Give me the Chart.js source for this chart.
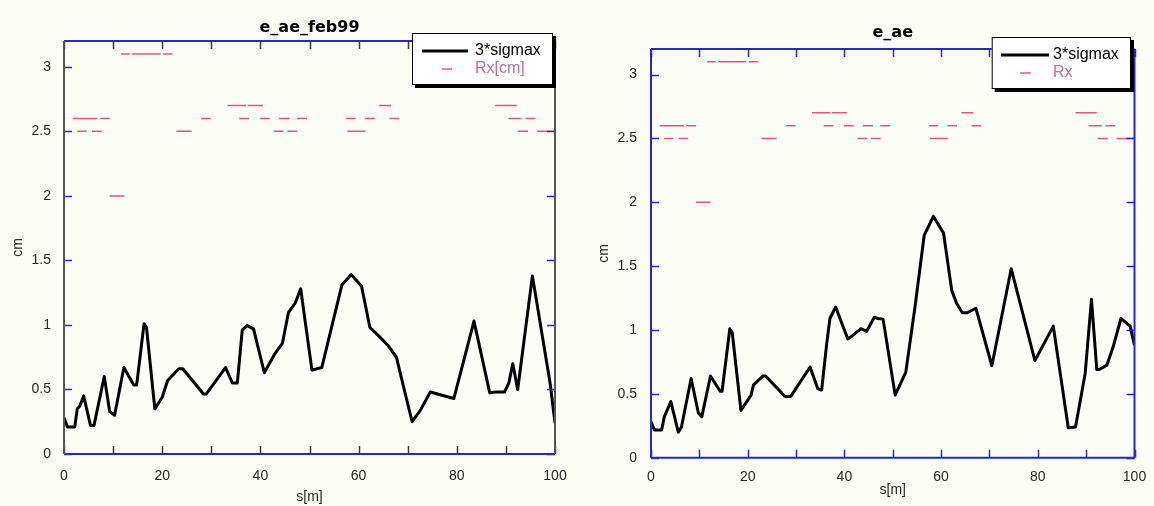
<!DOCTYPE html>
<html lang="en">
<head>
<meta charset="UTF-8" />
<script src="https://cdn.jsdelivr.net/npm/chart.js"></script>
<title>e_ae</title>
<style>
  body { margin: 0; background: #fdfdf8; }
  .wrap { display: flex; width: 1154px; height: 506px; }
  canvas { display: block; }
</style>
</head>
<body>
<div class="wrap">
  <canvas id="leftChart" width="577" height="506"></canvas>
  <canvas id="rightChart" width="577" height="506"></canvas>
</div>
<script>
// 3*sigmax [cm] along s [m], lattice e_ae_feb99
const sFeb99 = [0, 0.7, 2.2, 2.7, 3.2, 4.0, 5.4, 6.1, 8.2, 9.3, 10.3, 12.2, 14.2, 14.8, 16.3, 16.8, 18.5, 20.0, 21.1, 23.4,
                24.2, 28.4, 29.0, 32.9, 34.3, 35.3, 36.3, 37.3, 38.6, 40.8, 43.0, 44.5, 45.7, 47.1, 48.2, 50.5, 52.5, 56.6, 58.5, 60.6,
                62.3, 64.1, 65.9, 67.7, 68.9, 70.9, 72.6, 74.6, 79.4, 83.5, 86.7, 87.9, 89.7, 90.6, 91.4, 92.4, 93.7, 95.4, 99.0, 100];
const sigFeb99 = [0.28, 0.21, 0.21, 0.35, 0.37, 0.45, 0.22, 0.22, 0.60, 0.33, 0.30, 0.67, 0.535, 0.535, 1.01, 0.98, 0.35, 0.44, 0.57, 0.66,
                  0.66, 0.465, 0.465, 0.67, 0.55, 0.55, 0.96, 0.995, 0.97, 0.63, 0.78, 0.86, 1.095, 1.17, 1.28, 0.65, 0.67, 1.31, 1.39, 1.30,
                  0.98, 0.915, 0.845, 0.75, 0.56, 0.25, 0.34, 0.48, 0.43, 1.03, 0.475, 0.48, 0.48, 0.55, 0.70, 0.50, 0.88, 1.38, 0.55, 0.24];

// 3*sigmax [cm] along s [m], lattice e_ae
const sAe = [0, 0.7, 2.2, 2.75, 4.1, 5.65, 6.3, 8.3, 9.8, 10.5, 12.3, 14.3, 14.7, 16.3, 16.8, 18.6, 20.7, 21.2, 23.2, 23.7,
             27.7, 28.9, 32.9, 34.5, 35.3, 36.3, 37.0, 38.2, 40.7, 41.5, 43.4, 44.6, 46.2, 46.9, 48.0, 50.5, 52.7, 54.6, 56.5, 58.4,
             60.5, 62.2, 63.2, 64.4, 65.4, 67.2, 70.5, 74.5, 79.4, 83.2, 86.3, 87.8, 89.8, 91.1, 92.2, 92.7, 94.3, 95.6, 97.2, 99.1, 100];
const sigAe = [0.28, 0.217, 0.217, 0.32, 0.44, 0.20, 0.24, 0.62, 0.35, 0.32, 0.64, 0.52, 0.52, 1.01, 0.98, 0.37, 0.49, 0.57, 0.64, 0.64,
               0.48, 0.48, 0.71, 0.54, 0.53, 0.88, 1.09, 1.18, 0.93, 0.95, 1.01, 0.99, 1.10, 1.09, 1.085, 0.49, 0.67, 1.18, 1.74, 1.89,
               1.76, 1.31, 1.21, 1.135, 1.135, 1.17, 0.72, 1.48, 0.76, 1.03, 0.235, 0.24, 0.66, 1.24, 0.69, 0.69, 0.725, 0.87, 1.09, 1.03, 0.88];

// aperture Rx [cm]: element start, end and value (same in both plots)
const rxStart = [11.6, 13.9, 20.2, 9.3, 1.8, 7.3, 27.9, 35.7, 39.9, 43.8, 47.4, 57.5, 61.3, 66.3, 90.5, 94.0,
                 2.7, 5.7, 22.9, 42.7, 45.5, 57.7, 92.4, 96.3, 33.3, 37.4, 64.2, 87.8];
const rxEnd   = [13.4, 19.7, 22.1, 12.3, 6.8, 9.3, 29.9, 37.7, 41.9, 45.9, 49.5, 59.4, 63.3, 68.3, 93.2, 96.0,
                 4.6, 7.7, 26.0, 44.7, 47.5, 61.4, 94.5, 100, 37.1, 40.5, 66.6, 92.2];
const rxVal   = [3.1, 3.1, 3.1, 2.0, 2.6, 2.6, 2.6, 2.6, 2.6, 2.6, 2.6, 2.6, 2.6, 2.6, 2.6, 2.6,
                 2.5, 2.5, 2.5, 2.5, 2.5, 2.5, 2.5, 2.5, 2.7, 2.7, 2.7, 2.7];

const xTickLabels = [0, 20, 40, 60, 80, 100];
const xTickMarks = [0, 10, 20, 30, 40, 50, 60, 70, 80, 90, 100];
const yTickLabels = [0, 0.5, 1, 1.5, 2, 2.5, 3];

const FONT = '"Liberation Sans", Arial, sans-serif';
const BLUE = '#2626d6';
const RX_COLOR = '#e0567f';

function line(ctx, x1, y1, x2, y2) {
  ctx.beginPath();
  ctx.moveTo(x1, y1);
  ctx.lineTo(x2, y2);
  ctx.stroke();
}

// MATLAB style box: inward ticks on all four sides
const framePlugin = {
  id: 'frame',
  afterDatasetsDraw(chart, args, o) {
    const { ctx, chartArea: a, scales: { x, y } } = chart;
    ctx.save();
    ctx.lineWidth = 1.5;
    ctx.strokeStyle = o.xTickColor;
    xTickMarks.forEach(v => {
      const px = Math.round(x.getPixelForValue(v)) + 0.5;
      line(ctx, px, a.bottom, px, a.bottom - o.tickLen);
      line(ctx, px, a.top, px, a.top + o.tickLen);
    });
    ctx.strokeStyle = o.yTickColor;
    yTickLabels.forEach(v => {
      const py = Math.round(y.getPixelForValue(v)) + 0.5;
      line(ctx, a.left, py, a.left + o.tickLen, py);
      line(ctx, a.right, py, a.right - o.tickLen, py);
    });
    ctx.lineWidth = 2;
    ctx.strokeStyle = o.xBorder;
    line(ctx, a.left, a.top, a.right, a.top);
    line(ctx, a.left, a.bottom, a.right, a.bottom);
    ctx.strokeStyle = o.yBorder;
    line(ctx, a.left, a.top, a.left, a.bottom);
    line(ctx, a.right, a.top, a.right, a.bottom);
    ctx.restore();
  }
};

// legend box with drop shadow, top right corner of the axes
const boxLegend = {
  id: 'boxLegend',
  afterDraw(chart, args, o) {
    const { ctx, chartArea: a } = chart;
    const left = a.right - o.right - o.width;
    const top = a.top + o.top;
    ctx.save();
    ctx.fillStyle = '#000';
    ctx.fillRect(left + 3, top + 3, o.width, o.height);
    ctx.fillStyle = '#ffffff';
    ctx.fillRect(left, top, o.width, o.height);
    ctx.strokeStyle = '#000';
    ctx.lineWidth = 1;
    ctx.strokeRect(left + 0.5, top + 0.5, o.width - 1, o.height - 1);
    ctx.font = '16px ' + FONT;
    ctx.textBaseline = 'middle';
    chart.data.datasets.forEach((ds, i) => {
      const rowY = top + 18 + i * 18;
      const [x1, x2] = o.samples[i];
      ctx.strokeStyle = ds.borderColor;
      ctx.lineWidth = ds.borderWidth;
      line(ctx, left + x1, rowY, left + x2, rowY);
      ctx.fillStyle = o.textColors[i];
      ctx.fillText(ds.label, left + o.textX, rowY);
    });
    ctx.restore();
  }
};

function rxData() {
  const pts = [];
  rxStart.forEach((s, i) => {
    pts.push({ x: s, y: rxVal[i] }, { x: rxEnd[i], y: rxVal[i] }, { x: rxEnd[i], y: null });
  });
  return pts;
}

function makeChart(id, c) {
  return new Chart(document.getElementById(id), {
    type: 'line',
    data: {
      datasets: [{
        label: '3*sigmax',
        data: c.s.map((v, i) => ({ x: v, y: c.sig[i] })),
        borderColor: '#000',
        borderWidth: 3,
        pointRadius: 0,
        tension: 0,
        borderJoinStyle: 'round'
      }, {
        label: c.rxLabel,
        data: rxData(),
        borderColor: RX_COLOR,
        borderWidth: 1.5,
        pointRadius: 0,
        spanGaps: false
      }]
    },
    options: {
      responsive: false,
      animation: false,
      events: [],
      layout: { padding: { right: c.padRight } },
      scales: {
        x: {
          type: 'linear', min: 0, max: 100,
          afterBuildTicks: s => { s.ticks = xTickLabels.map(v => ({ value: v })); },
          afterFit: s => { s.height = c.xHeight; s.paddingLeft = 0; s.paddingRight = 0; },
          grid: { display: false, drawTicks: false },
          border: { display: false },
          ticks: { padding: c.xPad, color: '#262626', font: { family: FONT, size: 14 }, maxRotation: 0, autoSkip: false,
                   callback: v => String(v) },
          title: { display: true, text: 's[m]', color: '#262626', font: { family: FONT, size: 14 }, padding: { top: 0, bottom: c.xTitlePad } }
        },
        y: {
          type: 'linear', min: 0, max: 3.2,
          afterBuildTicks: s => { s.ticks = yTickLabels.map(v => ({ value: v })); },
          afterFit: s => { s.width = c.yWidth; s.paddingTop = 0; s.paddingBottom = 0; },
          grid: { display: false, drawTicks: false },
          border: { display: false },
          ticks: { padding: c.yPad, color: '#262626', font: { family: FONT, size: 14 }, callback: v => String(v) },
          title: { display: true, text: 'cm', color: '#262626', font: { family: FONT, size: 14 }, padding: { top: c.yTitlePad, bottom: 0 } }
        }
      },
      plugins: {
        legend: { display: false },
        tooltip: { enabled: false },
        title: {
          display: true, text: c.title, fullSize: false, color: '#000',
          font: { family: '"DejaVu Sans", sans-serif', size: 16, weight: 'bold' },
          padding: { top: c.titleTop, bottom: c.titleBottom }
        },
        frame: c.frame,
        boxLegend: c.legend
      }
    },
    plugins: [framePlugin, boxLegend]
  });
}

makeChart('leftChart', {
  s: sFeb99, sig: sigFeb99, rxLabel: 'Rx[cm]', title: 'e_ae_feb99',
  padRight: 22, xHeight: 52, xPad: 14, xTitlePad: 0.6, yWidth: 64, yPad: 13, yTitlePad: 9.6,
  titleTop: 18, titleBottom: 3.8,
  frame: { tickLen: 8, xTickColor: '#3a3a3a', yTickColor: BLUE, xBorder: BLUE, yBorder: '#555555' },
  legend: { right: 2, top: -8, width: 141, height: 52, textX: 63, samples: [[10, 56], [30, 40]], textColors: ['#000', '#cf6b95'] }
});

makeChart('rightChart', {
  s: sAe, sig: sigAe, rxLabel: 'Rx', title: 'e_ae',
  padRight: 19.5, xHeight: 48.3, xPad: 11, xTitlePad: 7.6, yWidth: 74, yPad: 14, yTitlePad: 18.6,
  titleTop: 23.5, titleBottom: 6.3,
  frame: { tickLen: 8, xTickColor: BLUE, yTickColor: BLUE, xBorder: BLUE, yBorder: BLUE },
  legend: { right: 3.5, top: -12, width: 139.3, height: 52, textX: 61.3, samples: [[9.3, 57.3], [28.5, 39]], textColors: ['#000', '#cf6b95'] }
});
</script>
</body>
</html>
